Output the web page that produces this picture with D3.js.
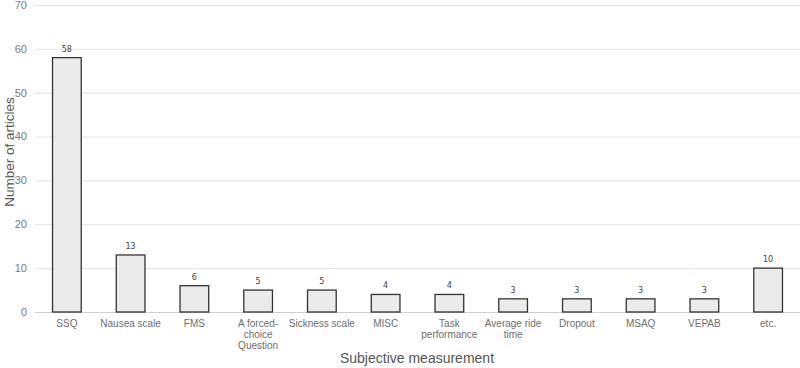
<!DOCTYPE html>
<html><head><meta charset="utf-8">
<script src="https://cdn.jsdelivr.net/npm/d3@7"></script>
<style>body{margin:0;background:#fff;} svg{display:block;}</style>
</head><body>
<svg id="c" width="800" height="368"></svg>
<script>
const categories = ["SSQ","Nausea scale","FMS","A forced-choice Question","Sickness scale","MISC","Task performance","Average ride time","Dropout","MSAQ","VEPAB","etc."];
const labelLines = [["SSQ"],["Nausea scale"],["FMS"],["A forced-","choice","Question"],["Sickness scale"],["MISC"],["Task","performance"],["Average ride","time"],["Dropout"],["MSAQ"],["VEPAB"],["etc."]];
const values = [58,13,6,5,5,4,4,3,3,3,3,10];
const yTicks = [0,10,20,30,40,50,60,70];

const svg = d3.select("#c");
const x = d3.scaleBand().domain(categories).range([35,800]).paddingInner(0.55).paddingOuter(0.275);
const y = d3.scaleLinear().domain([0,70]).range([312,5]);

// gridlines
svg.append("g").selectAll("line").data(yTicks).join("line")
  .attr("x1",35).attr("x2",800)
  .attr("y1",d=>y(d)+0.5).attr("y2",d=>y(d)+0.5)
  .attr("stroke",d=>d===0?"#cfcfcf":"#e2e2e2").attr("stroke-width",1);

// y tick labels
svg.append("g").selectAll("text").data(yTicks).join("text")
  .attr("x",27).attr("y",d=>y(d)).attr("dy","0.35em")
  .attr("text-anchor","end").attr("font-family","Liberation Sans, Arial, sans-serif")
  .attr("font-size",11).attr("fill","#7a7a7a").text(d=>d);

// bars
svg.append("g").selectAll("rect").data(values).join("rect")
  .attr("x",(d,i)=>x(categories[i]))
  .attr("y",d=>y(d))
  .attr("width",x.bandwidth())
  .attr("height",d=>y(0)-y(d))
  .attr("fill","#ebebeb").attr("stroke","#333").attr("stroke-width",1.3);

// value labels
svg.append("g").selectAll("text").data(values).join("text")
  .attr("x",(d,i)=>x(categories[i])+x.bandwidth()/2)
  .attr("y",d=>y(d)-6)
  .attr("text-anchor","middle").attr("font-family","DejaVu Sans, sans-serif")
  .attr("font-size",8).attr("fill","#444").text(d=>d);

// x labels
const xl = svg.append("g").selectAll("text").data(categories).join("text")
  .attr("x",d=>x(d)+x.bandwidth()/2)
  .attr("y",327)
  .attr("text-anchor","middle").attr("font-family","Liberation Sans, Arial, sans-serif")
  .attr("font-size",10).attr("fill","#6e6e6e");
xl.each(function(d,i){
  const t=d3.select(this);
  labelLines[i].forEach((ln,j)=>{
    t.append("tspan").attr("x",x(d)+x.bandwidth()/2).attr("dy",j===0?0:11).text(ln);
  });
});

// axis titles
svg.append("text").attr("x",417).attr("y",363).attr("text-anchor","middle")
  .attr("font-family","Liberation Sans, Arial, sans-serif").attr("font-size",14).attr("fill","#555")
  .text("Subjective measurement");
svg.append("text").attr("transform","translate(14,152) rotate(-90)").attr("text-anchor","middle")
  .attr("font-family","Liberation Sans, Arial, sans-serif").attr("font-size",13.5).attr("fill","#555")
  .text("Number of articles");
</script>
</body></html>
